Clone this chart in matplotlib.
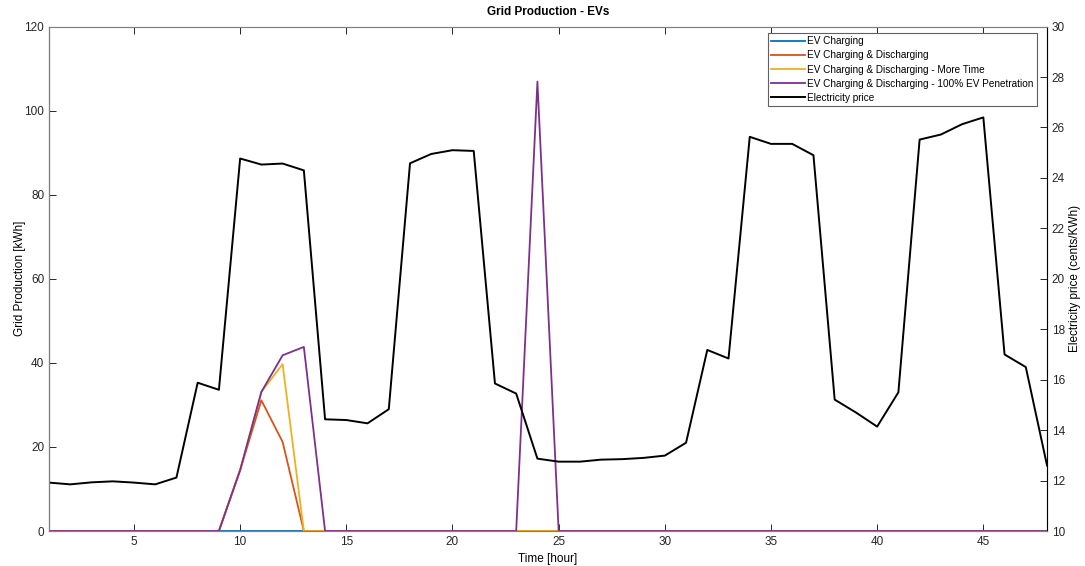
import numpy as np
import matplotlib
matplotlib.use('Agg')
import matplotlib.pyplot as plt

plt.rcParams['font.family'] = ['Liberation Sans', 'DejaVu Sans']

# hours 1..48
hours = list(range(1, 49))

# grid production [kWh], left axis
ev_charging = [0.0] * 48
ev_cd = [0, 0, 0, 0, 0, 0, 0, 0, 0, 14.5, 31.1, 21.2, 0, 0, 0, 0, 0, 0, 0, 0, 0, 0, 0, 0,
         0, 0, 0, 0, 0, 0, 0, 0, 0, 0, 0, 0, 0, 0, 0, 0, 0, 0, 0, 0, 0, 0, 0, 0]
ev_cd_more = [0, 0, 0, 0, 0, 0, 0, 0, 0, 14.5, 33.1, 39.7, 0, 0, 0, 0, 0, 0, 0, 0, 0, 0, 0, 0,
              0, 0, 0, 0, 0, 0, 0, 0, 0, 0, 0, 0, 0, 0, 0, 0, 0, 0, 0, 0, 0, 0, 0, 0]
ev_cd_100 = [0, 0, 0, 0, 0, 0, 0, 0, 0, 14.5, 33.1, 41.8, 43.8, 0, 0, 0, 0, 0, 0, 0, 0, 0, 0, 106.9,
             0, 0, 0, 0, 0, 0, 0, 0, 0, 0, 0, 0, 0, 0, 0, 0, 0, 0, 0, 0, 0, 0, 0, 0]

# electricity price (cents/KWh), right axis
price = [11.92, 11.85, 11.93, 11.97, 11.92, 11.85, 12.12, 15.88, 15.6, 24.77,
         24.53, 24.57, 24.3, 14.43, 14.4, 14.27, 14.83, 24.58, 24.95, 25.1,
         25.07, 15.85, 15.45, 12.87, 12.75, 12.75, 12.83, 12.85, 12.9, 12.99,
         13.5, 17.18, 16.84, 25.63, 25.35, 25.35, 24.9, 15.21, 14.7, 14.14,
         15.5, 25.52, 25.72, 26.13, 26.4, 17.0, 16.5, 12.6]

labels = ['EV Charging', 'EV Charging & Discharging',
          'EV Charging & Discharging - More Time',
          'EV Charging & Discharging - 100% EV Penetration',
          'Electricity price']
colors = ['#0072BD', '#D95319', '#EDB120', '#7E2F8E']

fig = plt.figure(figsize=(10.85, 5.66), dpi=100)
ax = fig.add_axes([0.0452, 0.0618, 0.9198, 0.8912])
ax2 = ax.twinx()

lines = []
for ser, c, lab in zip([ev_charging, ev_cd, ev_cd_more, ev_cd_100], colors, labels[:4]):
    l, = ax.plot(hours, ser, color=c, lw=1.3, label=lab)
    lines.append(l)
l, = ax2.plot(hours, price, color='black', lw=1.4, label=labels[4])
lines.append(l)

ax.set_xlim(1, 48)
ax.set_ylim(0, 120)
ax2.set_ylim(10, 30)
ax.set_xticks([5, 10, 15, 20, 25, 30, 35, 40, 45])
ax.set_yticks([0, 20, 40, 60, 80, 100, 120])
ax2.set_yticks(np.arange(10, 31, 2))

for a in (ax, ax2):
    a.tick_params(direction='in', labelsize=8.5, length=5, width=0.7, colors='#262626')
    for s in a.spines.values():
        s.set_linewidth(0.8)
        s.set_color('#808080')
ax.tick_params(top=True, which='both')
ax.spines['left'].set_color('black')
ax2.spines['right'].set_color('black')

ax.set_title('Grid Production - EVs', fontsize=8.5, fontweight='bold', pad=8)
ax.set_xlabel('Time [hour]', fontsize=8.5, labelpad=4)
ax.set_ylabel('Grid Production [kWh]', fontsize=8.5, labelpad=-1)
ax2.set_ylabel('Electricity price (cents/KWh)', fontsize=8.5, labelpad=3)

leg = ax2.legend(lines, labels, loc='upper right', bbox_to_anchor=(0.99, 0.988),
                 borderaxespad=0, fontsize=7.2, fancybox=False, framealpha=1,
                 edgecolor='#606060', handlelength=3.4, handletextpad=0.2,
                 labelspacing=0.42, borderpad=0.35)
leg.get_frame().set_linewidth(0.8)

fig.savefig('out.png', dpi=100)
